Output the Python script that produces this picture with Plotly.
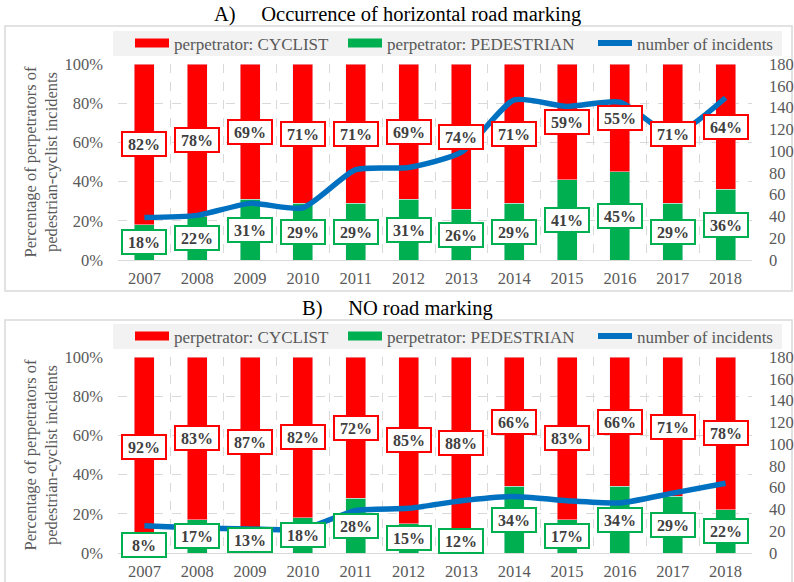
import plotly.graph_objects as go

years = ["2007", "2008", "2009", "2010", "2011", "2012", "2013", "2014", "2015", "2016", "2017", "2018"]

# Panel A: occurrence of horizontal road marking
cyclist_a = [82, 78, 69, 71, 71, 69, 74, 71, 59, 55, 71, 64]
pedestrian_a = [18, 22, 31, 29, 29, 31, 26, 29, 41, 45, 29, 36]
incidents_a = [39, 41, 52, 48, 83, 85, 99, 147, 141, 145, 115, 149]

# Panel B: NO road marking
cyclist_b = [92, 83, 87, 82, 72, 85, 88, 66, 83, 66, 71, 78]
pedestrian_b = [8, 17, 13, 18, 28, 15, 12, 34, 17, 34, 29, 22]
incidents_b = [25, 23, 22, 22, 39, 41, 48, 52, 48, 46, 55, 64]

SP = "\u00a0" * 5
panel_titles = ["A)" + SP + "Occurrence of horizontal road marking",
                "B)" + SP + "NO road marking"]
series_names = ["perpetrator: CYCLIST", "perpetrator: PEDESTRIAN", "number of incidents"]
left_title = "Percentage of perpetrators of<br>pedestrian-cyclist incidents"

RED = "#FF0000"
GREEN = "#00B050"
BLUE = "#0070C0"
GRAY = "#595959"
GRID = "#D9D9D9"
FONT = "Liberation Serif"

W, H = 794, 582

def fx(p):
    return p / W

def fy(p):
    return 1 - p / H

fig = go.Figure()

panels = [
    dict(cyc=cyclist_a, ped=pedestrian_a, inc=incidents_a, xa="x", ya="y", ya2="y2",
         legs=["legend", "legend2", "legend3"], leg_y=43.5),
    dict(cyc=cyclist_b, ped=pedestrian_b, inc=incidents_b, xa="x2", ya="y3", ya2="y4",
         legs=["legend4", "legend5", "legend6"], leg_y=336.5),
]
legend_x = [130, 343, 593]  # left edge of each legend entry (pixels)

label_font = dict(family=FONT, size=16, color="#404040")
annotations = []
legends = {}
for p in panels:
    ped = [v / 100 for v in p["ped"]]
    cyc = [v / 100 for v in p["cyc"]]
    fig.add_trace(go.Bar(x=years, y=ped, name=series_names[1], marker_color=GREEN, width=0.38,
                         xaxis=p["xa"], yaxis=p["ya"], showlegend=False))
    fig.add_trace(go.Bar(x=years, y=cyc, name=series_names[0], marker_color=RED, width=0.38,
                         xaxis=p["xa"], yaxis=p["ya"], showlegend=False))
    fig.add_trace(go.Scatter(x=years, y=p["inc"], name=series_names[2], mode="lines",
                             line=dict(color=BLUE, width=5.5, shape="spline", smoothing=0.6),
                             xaxis=p["xa"], yaxis=p["ya2"], showlegend=False))
    # legend entries, one legend per entry so they can be spaced like the original
    for k, (name, col) in enumerate([(series_names[0], RED), (series_names[1], GREEN), (series_names[2], BLUE)]):
        fig.add_trace(go.Scatter(x=[years[0]], y=[None], mode="lines", name=name,
                                 line=dict(color=col, width=9 if k < 2 else 6),
                                 xaxis=p["xa"], yaxis=p["ya"], legend=p["legs"][k], hoverinfo="skip"))
        legends[p["legs"][k]] = dict(orientation="h", x=fx(legend_x[k]), xanchor="left",
                                     y=fy(p["leg_y"]), yanchor="middle", bgcolor="rgba(0,0,0,0)",
                                     font=dict(family=FONT, size=17, color=GRAY), itemwidth=34)
    # data labels (category axis positions are category indices)
    for i, (g, r, gv, rv) in enumerate(zip(ped, cyc, p["ped"], p["cyc"])):
        annotations.append(dict(x=i, y=g / 2, xref=p["xa"], yref=p["ya"], text=f"<b>{gv}%</b>",
                                showarrow=False, bgcolor="white", bordercolor=GREEN, borderwidth=2,
                                borderpad=2, width=38, height=18, font=label_font))
        annotations.append(dict(x=i, y=g + r / 2, xref=p["xa"], yref=p["ya"], text=f"<b>{rv}%</b>",
                                showarrow=False, bgcolor="white", bordercolor=RED, borderwidth=2,
                                borderpad=2, width=38, height=18, font=label_font))

# panel titles
annotations.append(dict(x=fx(397), y=fy(14), xref="paper", yref="paper", text=panel_titles[0],
                        showarrow=False, xanchor="center", yanchor="middle",
                        font=dict(family=FONT, size=20.5, color="black")))
annotations.append(dict(x=fx(397), y=fy(308), xref="paper", yref="paper", text=panel_titles[1],
                        showarrow=False, xanchor="center", yanchor="middle",
                        font=dict(family=FONT, size=20.5, color="black")))

xdom = [fx(118), fx(752)]
domA = [fy(260), fy(64)]
domB = [fy(553), fy(357)]

TICKFONT = dict(family=FONT, size=16.5, color=GRAY)

def xaxis_cfg(anchor):
    return dict(domain=xdom, anchor=anchor, type="category", categoryorder="array", categoryarray=years,
                range=[-0.5, len(years) - 0.5], tickson="boundaries", ticks="",
                showgrid=True, gridcolor=GRID, griddash="dash", gridwidth=1,
                showline=True, linecolor=GRID, linewidth=1, tickangle=0, automargin=False,
                tickfont=TICKFONT, ticklabelstandoff=3)

def yaxis_cfg(dom, anchor):
    return dict(domain=dom, anchor=anchor, range=[0, 1], tickvals=[0, 0.2, 0.4, 0.6, 0.8, 1.0],
                tickformat=".0%", showgrid=True, gridcolor=GRID, griddash="dash", zeroline=False,
                tickfont=TICKFONT, ticklabelstandoff=14, automargin=False,
                title=dict(text=left_title, font=dict(family=FONT, size=16.5, color=GRAY), standoff=2))

def yaxis2_cfg(overlay, anchor):
    return dict(overlaying=overlay, side="right", anchor=anchor, range=[0, 180], dtick=20,
                showgrid=False, zeroline=False, tickfont=TICKFONT,
                ticklabelstandoff=16, automargin=False)

shapes = [
    dict(type="rect", xref="paper", yref="paper", x0=fx(5), x1=fx(792), y0=fy(291), y1=fy(26),
         line=dict(color=GRID, width=1.5), fillcolor="rgba(0,0,0,0)", layer="below"),
    dict(type="rect", xref="paper", yref="paper", x0=fx(5), x1=fx(792), y0=-0.05, y1=fy(320),
         line=dict(color=GRID, width=1.5), fillcolor="rgba(0,0,0,0)", layer="below"),
    dict(type="rect", xref="paper", yref="paper", x0=fx(113), x1=fx(782), y0=fy(56), y1=fy(31),
         line=dict(width=0), fillcolor="#F2F2F2", layer="below"),
    dict(type="rect", xref="paper", yref="paper", x0=fx(113), x1=fx(782), y0=fy(349), y1=fy(324),
         line=dict(width=0), fillcolor="#F2F2F2", layer="below"),
]

fig.update_layout(
    width=W, height=H, autosize=False,
    margin=dict(l=0, r=0, t=0, b=0, autoexpand=False),
    paper_bgcolor="white", plot_bgcolor="rgba(0,0,0,0)",
    barmode="stack", hovermode=False,
    xaxis=xaxis_cfg("y"), yaxis=yaxis_cfg(domA, "x"), yaxis2=yaxis2_cfg("y", "x"),
    xaxis2=xaxis_cfg("y3"), yaxis3=yaxis_cfg(domB, "x2"), yaxis4=yaxis2_cfg("y3", "x2"),
    annotations=annotations, shapes=shapes,
    **legends,
)

fig.write_html("out.html", config={"displayModeBar": False},
               post_script="document.body.style.margin='0px';")
